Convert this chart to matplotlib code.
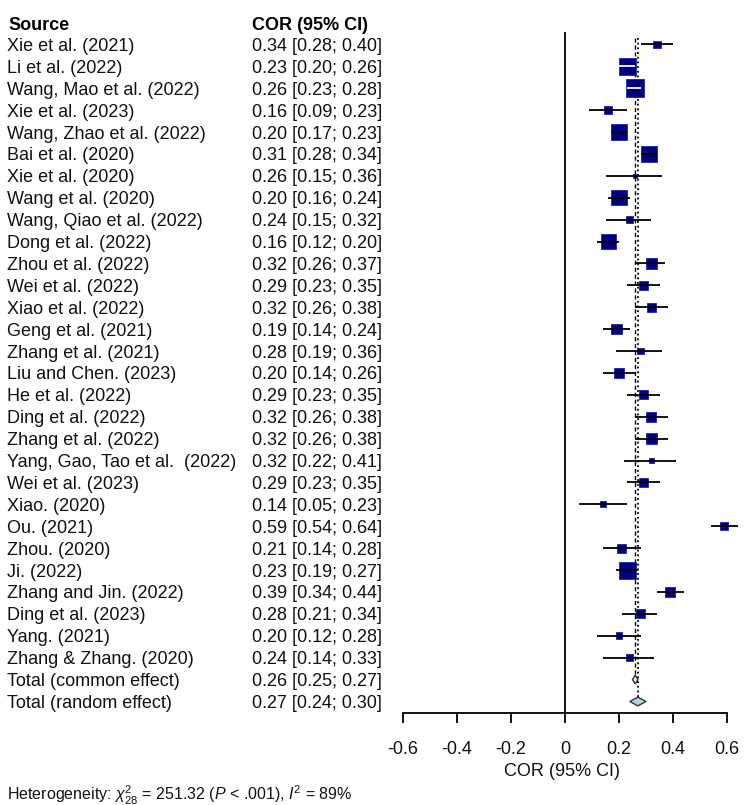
import numpy as np
import matplotlib
matplotlib.use('Agg')
import matplotlib.pyplot as plt
import matplotlib.transforms as mtransforms
from matplotlib.patches import Polygon

plt.rcParams['font.family'] = ['Liberation Sans', 'DejaVu Sans']
plt.rcParams['mathtext.fontset'] = 'custom'
plt.rcParams['mathtext.rm'] = 'Liberation Sans'
plt.rcParams['mathtext.it'] = 'Liberation Sans:italic'

sources = ['Xie et al. (2021)', 'Li et al. (2022)', 'Wang, Mao et al. (2022)', 'Xie et al. (2023)',
           'Wang, Zhao et al. (2022)', 'Bai et al. (2020)', 'Xie et al. (2020)', 'Wang et al. (2020)',
           'Wang, Qiao et al. (2022)', 'Dong et al. (2022)', 'Zhou et al. (2022)', 'Wei et al. (2022)',
           'Xiao et al. (2022)', 'Geng et al. (2021)', 'Zhang et al. (2021)', 'Liu and Chen. (2023)',
           'He et al. (2022)', 'Ding et al. (2022)', 'Zhang et al. (2022)', 'Yang, Gao, Tao et al.  (2022)',
           'Wei et al. (2023)', 'Xiao. (2020)', 'Ou. (2021)', 'Zhou. (2020)', 'Ji. (2022)',
           'Zhang and Jin. (2022)', 'Ding et al. (2023)', 'Yang. (2021)', 'Zhang & Zhang. (2020)']
cor = [0.34, 0.23, 0.26, 0.16, 0.20, 0.31, 0.26, 0.20, 0.24, 0.16, 0.32, 0.29, 0.32, 0.19, 0.28,
       0.20, 0.29, 0.32, 0.32, 0.32, 0.29, 0.14, 0.59, 0.21, 0.23, 0.39, 0.28, 0.20, 0.24]
lower = [0.28, 0.20, 0.23, 0.09, 0.17, 0.28, 0.15, 0.16, 0.15, 0.12, 0.26, 0.23, 0.26, 0.14, 0.19,
         0.14, 0.23, 0.26, 0.26, 0.22, 0.23, 0.05, 0.54, 0.14, 0.19, 0.34, 0.21, 0.12, 0.14]
upper = [0.40, 0.26, 0.28, 0.23, 0.23, 0.34, 0.36, 0.24, 0.32, 0.20, 0.37, 0.35, 0.38, 0.24, 0.36,
         0.26, 0.35, 0.38, 0.38, 0.41, 0.35, 0.23, 0.64, 0.28, 0.27, 0.44, 0.34, 0.28, 0.33]
# approximate study weights (%), read from square sizes
weights = [1.8, 8.3, 9.3, 1.8, 7.3, 7.3, 0.5, 6.5, 1.4, 6.5, 3.5, 2.3, 2.3, 3.2, 1.2,
           2.9, 2.3, 2.9, 3.2, 0.9, 2.3, 1.0, 1.8, 2.3, 8.3, 2.9, 2.3, 1.4, 1.4]

totals = ['Total (common effect)', 'Total (random effect)']
tot_cor = [0.26, 0.27]
tot_lower = [0.25, 0.24]
tot_upper = [0.27, 0.30]

xticks = [-0.6, -0.4, -0.2, 0, 0.2, 0.4, 0.6]
xtick_labels = ['-0.6', '-0.4', '-0.2', '0', '0.2', '0.4', '0.6']

W, H = 750, 805
fig = plt.figure(figsize=(7.5, 8.05), dpi=100)
# forest panel: x 380..745 px, y 20..713 px
ppu = 270.0
x0 = 565.0
row0, rowh = 44.5, 21.9
ax = fig.add_axes([380 / W, 1 - 713 / H, 365 / W, 693 / H])
ax.set_xlim((380 - x0) / ppu, (745 - x0) / ppu)
ax.set_ylim((713 - row0) / rowh, (20 - row0) / rowh)

n = len(sources)
rows = np.arange(n)

for s in ['top', 'left', 'right']:
    ax.spines[s].set_visible(False)
ax.spines['bottom'].set_bounds(-0.6, 0.6)
ax.spines['bottom'].set_linewidth(1.3)
ax.set_yticks([])
ax.set_xticks(xticks)
ax.set_xticklabels(xtick_labels, fontsize=13, color='#111111')
ax.tick_params(axis='x', direction='out', length=7.5, width=1.3, pad=13)
ax.set_xlabel('COR (95% CI)', fontsize=13, labelpad=3, color='#111111')

# reference lines
ax.vlines(0, -0.55, (713 - row0) / rowh, color='black', lw=1.3, zorder=1)
ax.vlines(tot_cor[0], -0.3, n, color='black', lw=1.0, linestyles=(0, (3, 2)), zorder=1)
ax.vlines(tot_cor[1], -0.3, n + 0.8, color='black', lw=1.3, linestyles=(0, (1, 1.6)), zorder=1)

# squares
side_px = 5.9 * np.sqrt(weights)
ax.scatter(cor, rows, marker='s', s=(side_px * 0.72) ** 2, color='#000080',
           edgecolors='#1f1fb0', linewidths=0.6, zorder=3)
for i in range(n):
    hw = side_px[i] / 2 / ppu
    inside = lower[i] > cor[i] - hw and upper[i] < cor[i] + hw
    ax.hlines(i, lower[i], upper[i], color='white' if inside else 'black', lw=1.3, zorder=4)

# summary diamonds
for j, (c, lo, hi) in enumerate(zip(tot_cor, tot_lower, tot_upper)):
    r = n + j
    dh = 0.2
    face = '#f0f0f0' if j == 0 else '#add8e6'
    ax.add_patch(Polygon([[lo, r], [c, r - dh], [hi, r], [c, r + dh]], closed=True,
                         facecolor=face, edgecolor='#333333', lw=1.0, zorder=5))

# text columns: cap-height centred on each row
fs = 13
shift = mtransforms.ScaledTranslation(0, -0.358 * fs / 72, fig.dpi_scale_trans)
trans = mtransforms.blended_transform_factory(fig.transFigure, ax.transData) + shift
ax.text(8 / W, -0.97, 'Source', transform=trans, fontsize=fs, fontweight='bold', va='baseline')
ax.text(252 / W, -0.97, 'COR (95% CI)', transform=trans, fontsize=fs, fontweight='bold', va='baseline')
labels = sources + totals
cors = cor + tot_cor
los = lower + tot_lower
his = upper + tot_upper
for i, lab in enumerate(labels):
    ax.text(7 / W, i, lab, transform=trans, fontsize=fs, va='baseline', color='#111111')
    ax.text(252 / W, i, f'{cors[i]:.2f} [{los[i]:.2f}; {his[i]:.2f}]', transform=trans,
            fontsize=fs, va='baseline', color='#111111')

fig.text(7 / W, 1 - 795 / H,
         r'Heterogeneity: $\chi^2_{28}$ = 251.32 ($P$ < .001), $I^2$ = 89%',
         fontsize=11.5, va='center', color='#111111')

fig.savefig('out.png', dpi=100)
